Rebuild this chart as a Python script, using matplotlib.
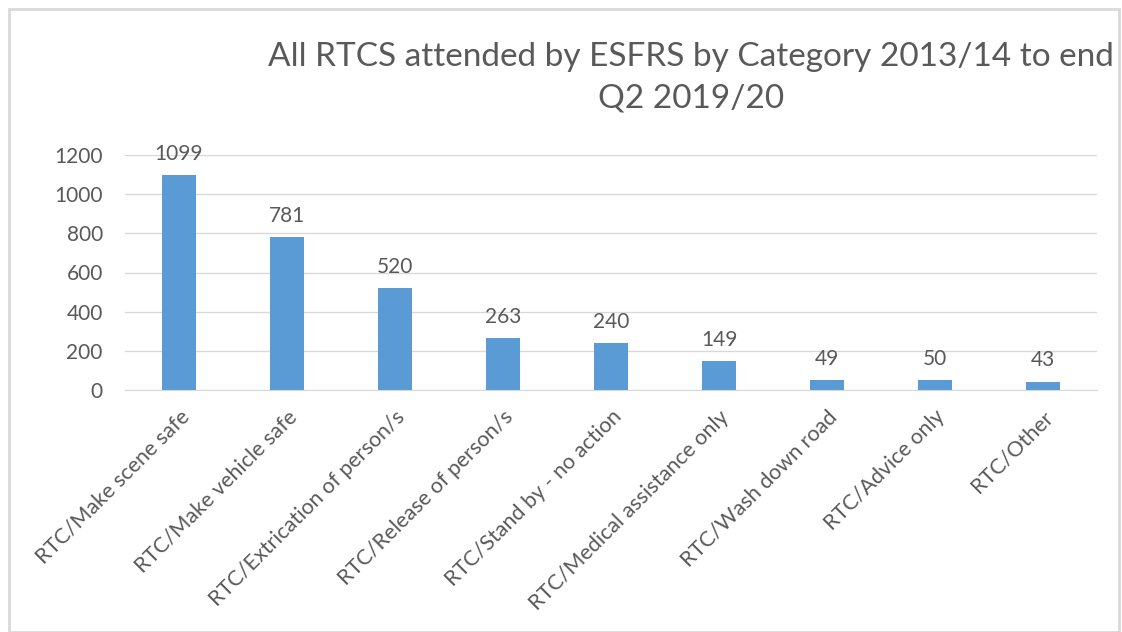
import matplotlib
matplotlib.use("Agg")
import matplotlib.pyplot as plt
from matplotlib.patches import Rectangle

categories = ["RTC/Make scene safe", "RTC/Make vehicle safe", "RTC/Extrication of person/s",
              "RTC/Release of person/s", "RTC/Stand by - no action", "RTC/Medical assistance only",
              "RTC/Wash down road", "RTC/Advice only", "RTC/Other"]
values = [1099, 781, 520, 263, 240, 149, 49, 50, 43]
yticks = [0, 200, 400, 600, 800, 1000, 1200]
title = "All RTCS attended by ESFRS by Category 2013/14 to end\nQ2 2019/20"

plt.rcParams['font.family'] = ['Lato', 'DejaVu Sans']
txt = '#595959'

fig = plt.figure(figsize=(11.22, 6.32), dpi=100)
W, H = 1122, 632
fig.patches.append(Rectangle((9/W, 0), (1119-9)/W, 1-9/H, transform=fig.transFigure,
                             fill=False, edgecolor='#D9D9D9', linewidth=2))

ax = fig.add_axes([125/W, 1-390/H, 972/W, 235/H])
x = list(range(len(categories)))
ax.bar(x, values, width=0.31, color='#5B9BD5', zorder=3)
for xi, v in zip(x, values):
    ax.annotate(str(v), (xi, v), xytext=(0, 8), textcoords='offset points',
                ha='center', va='bottom', fontsize=15, color=txt)
ax.set_xlim(-0.5, len(categories) - 0.5)
ax.set_ylim(0, 1200)
ax.set_yticks(yticks)
ax.set_yticklabels([str(t) for t in yticks], fontsize=15, color=txt)
ax.set_xticks(x)
ax.set_xticklabels(categories, rotation=45, ha='right', rotation_mode='anchor',
                   fontsize=15.5, color=txt)
ax.tick_params(axis='both', length=0)
ax.tick_params(axis='y', pad=16)
ax.tick_params(axis='x', pad=12)
ax.grid(axis='y', color='#D9D9D9', linewidth=1, zorder=0)
for s in ['top', 'right', 'left']:
    ax.spines[s].set_visible(False)
ax.spines['bottom'].set_color('#D9D9D9')

fig.text(691/W, 1-78/H, title, ha='center', va='center', fontsize=24, color=txt,
         linespacing=1.5)

fig.savefig("out.png", dpi=100)
